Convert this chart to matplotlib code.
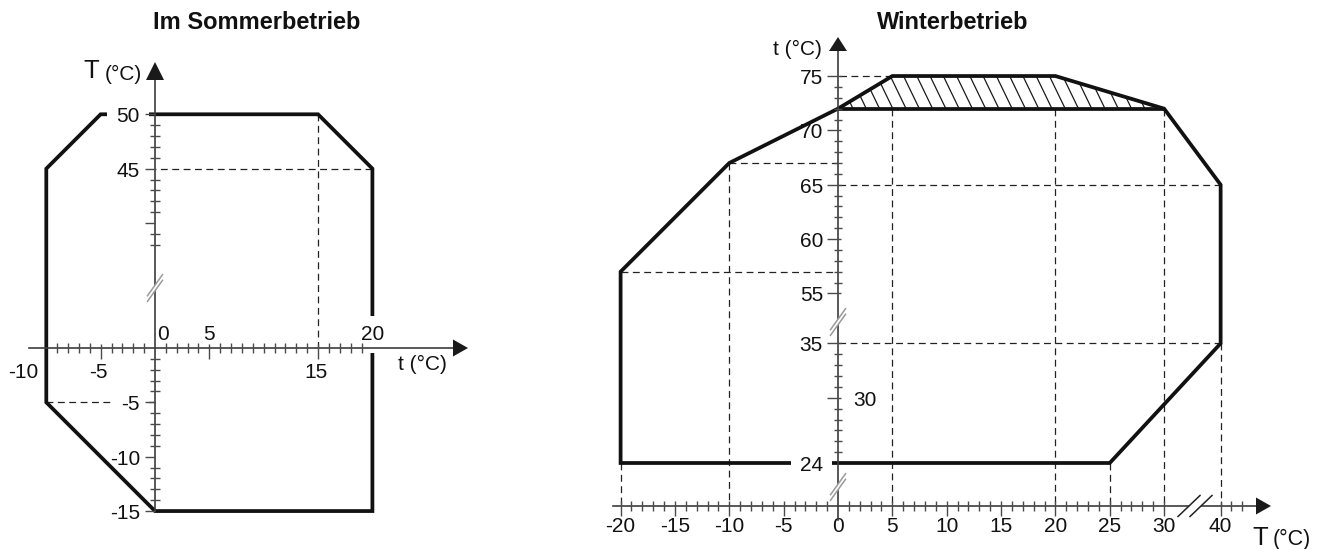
import numpy as np
import matplotlib
matplotlib.use("Agg")
import matplotlib.pyplot as plt
from matplotlib.collections import LineCollection
from matplotlib.patches import Polygon

plt.rcParams["font.family"] = ["Liberation Sans", "DejaVu Sans"]

# ---------------- data ----------------
# Summer operation: outdoor temperature t (x) against water temperature T (y)
summer_t = [0, 15, 20, 20, 0, -10, -10, -5, 0]
summer_T = [50, 50, 45, -15, -15, -5, 45, 50, 50]
summer_guide_v = [(15, 50)]               # (t, T) dropped onto the t axis
summer_guide_h = [(20, 45), (-10, -5)]    # (t, T) led across to the T axis
summer_xlab_top = [0, 5, 20]
summer_xlab_bottom = [-10, -5, 15]
summer_ylab = [50, 45, -5, -10, -15]
summer_xmajor = [-5, 5, 15]
summer_xminor = [v for v in range(-9, 20) if v not in (-5, 0, 5, 15)]
summer_ymajor = [50, 45, 40, -5, -10, -15]
summer_yminor = [49, 48, 47, 46, 44, 43, 42, 41, 39, 38] + \
                [v for v in range(-1, -15, -1) if v not in (-5, -10)]

# Winter operation: outdoor temperature T (x) against water temperature t (y)
winter_T = [0, 5, 20, 30, 40, 40, 25, -20, -20, -10, 0]
winter_t = [72, 75, 75, 72, 65, 35, 24, 24, 57, 67, 72]
winter_zone_T = [0, 5, 20, 30]            # hatched zone above t = 72
winter_zone_t = [72, 75, 75, 72]
winter_guide_v = [(-20, 24), (-10, 67), (5, 72), (20, 72), (25, 24), (30, 72), (40, 35)]
winter_guide_h = [(5, 75), (-10, 67), (-20, 57), (40, 65), (40, 35)]
winter_xlab = [-20, -15, -10, -5, 0, 5, 10, 15, 20, 25, 30, 40]
winter_ylab_left = [75, 70, 65, 60, 55, 35, 24]
winter_ylab_right = [30]
winter_xmajor = [-20, -15, -10, -5, 5, 10, 15, 20, 25, 30, 40]
winter_xminor = [v for v in range(-19, 30) if v % 5] + [41, 42]
winter_ymajor = [75, 70, 65, 60, 55, 35, 30]
winter_yminor = [v for v in range(56, 75) if v % 5] + [v for v in range(25, 35) if v != 30]

# ---------------- axis breaks ----------------
def summer_y(T):
    T = np.asarray(T, float)
    return np.where(T > 20, T - 28.5, T)

def winter_x(T):
    T = np.asarray(T, float)
    return np.where(T > 35, T - 4.8, T)

def winter_y(t):
    t = np.asarray(t, float)
    return np.where(t > 45, t - 15.4, t)

# ---------------- styling ----------------
W, H, DPI = 1326, 549, 100
S = 10.87                 # pixels per degree
INK = "#111111"
AXC = "#3c3c3c"
TICKC = "#4a4a4a"
BRK = "#9a9a9a"
FS = 15

fig = plt.figure(figsize=(W / DPI, H / DPI), dpi=DPI)


def make_ax(x0, y0, x1, y1, ox, oy, vx, vy):
    """Axes over pixel box (x0,y0)-(x1,y1); pixel (ox,oy) shows data (vx,vy)."""
    ax = fig.add_axes([x0 / W, 1 - y1 / H, (x1 - x0) / W, (y1 - y0) / H])
    ax.set_xlim(vx + (x0 - ox) / S, vx + (x1 - ox) / S)
    ax.set_ylim(vy + (oy - y1) / S, vy + (oy - y0) / S)
    ax.set_axis_off()
    return ax


def px(v):
    return v / S


def label(ax, s, x, y, dx, dy, ha="center", size=FS, box=None, **kw):
    bbox = None
    if box is not None:
        bbox = dict(boxstyle=f"square,pad={box}", fc="white", ec="none")
    ax.annotate(s, (float(x), float(y)), xytext=(dx, dy), textcoords="offset pixels",
                ha=ha, va="baseline", fontsize=size, color=INK, bbox=bbox,
                annotation_clip=False, zorder=3, **kw)


def hticks(ax, xs, y0, up, down, lw=1.0):
    segs = [((x, y0 + px(up)), (x, y0 - px(down))) for x in xs]
    ax.add_collection(LineCollection(segs, colors=TICKC, linewidths=lw, zorder=4))


def vticks(ax, ys, x0, left, right, lw=1.0):
    segs = [((x0 - px(left), y), (x0 + px(right), y)) for y in ys]
    ax.add_collection(LineCollection(segs, colors=TICKC, linewidths=lw, zorder=4))


def arrow_head(ax, tip, base, half):
    (xt, yt), (xb, yb) = tip, base
    if xt == xb:   # vertical axis
        pts = [(xb - px(half), yb), (xb + px(half), yb), (xt, yt)]
    else:
        pts = [(xb, yb - px(half)), (xb, yb + px(half)), (xt, yt)]
    ax.add_patch(Polygon(pts, closed=True, fc="#1a1a1a", ec="none", zorder=4))


def y_break(ax, x, y, color=BRK):
    hx, hy, g = px(7.5), px(10.5), px(2.8)
    band = [(x - hx, y - hy - g), (x + hx, y + hy - g), (x + hx, y + hy + g), (x - hx, y - hy + g)]
    ax.add_patch(Polygon(band, closed=True, fc="white", ec="none", zorder=5))
    for o in (-g, g):
        ax.plot([x - hx, x + hx], [y - hy + o, y + hy + o], color=color, lw=1.1, zorder=6)


def x_break(ax, x, y, color="#222222"):
    hx, hy, g = px(11), px(10.5), px(6)
    band = [(x - g - hx, y - hy), (x - g + hx, y + hy), (x + g + hx, y + hy), (x + g - hx, y - hy)]
    ax.add_patch(Polygon(band, closed=True, fc="white", ec="none", zorder=5))
    for o in (-g, g):
        ax.plot([x + o - hx, x + o + hx], [y - hy, y + hy], color=color, lw=1.1, zorder=6)


DASH = dict(color="#222222", lw=0.9, linestyle=(0, (5.5, 3.6)), zorder=1)
THICK = dict(color=INK, lw=2.7, solid_joinstyle="miter", solid_capstyle="butt", zorder=2)

# =============== summer chart ===============
axL = make_ax(0, 40, 590, 549, 155, 348, 0, 0)

# guide lines
for t, T in summer_guide_v:
    axL.plot([t, t], [summer_y(T), 0], **DASH)
for t, T in summer_guide_h:
    axL.plot([t, 0], [summer_y(T), summer_y(T)], **DASH)

# operating envelope
axL.plot(summer_t, summer_y(summer_T), **THICK)

# axes
axL.plot([px(29 - 155), px(455 - 155)], [0, 0], color=AXC, lw=1.2, zorder=4)
axL.plot([0, 0], [-15, px(348 - 78)], color=AXC, lw=1.2, zorder=4)
arrow_head(axL, (px(468 - 155), 0), (px(453 - 155), 0), 8.5)
arrow_head(axL, (0, px(348 - 62)), (0, px(348 - 80)), 9)
y_break(axL, 0, px(348 - 288))

hticks(axL, summer_xminor, 0, 5, 5)
hticks(axL, summer_xmajor, 0, 4, 11)
vticks(axL, summer_y(summer_yminor), 0, 5, 5)
vticks(axL, summer_y(summer_ymajor), 0, 10, 0)

# tick labels
for v in summer_xlab_top:
    dx = 8 if v == 0 else 0
    label(axL, f"{v}", v, 0, dx, 8, box=0.45 if v == 20 else None)
for v in summer_xlab_bottom:
    dx = -23 if v == -10 else -2
    label(axL, f"{v}", v, 0, dx, -30)
for v in summer_ylab:
    label(axL, f"{v}", 0, summer_y(v), -15, -8, ha="right",
          box=0.45 if v in (50, -5) else None)

# axis titles
label(axL, "t (°C)", px(468 - 155), 0, -70, -22, ha="left")
label(axL, "T", 0, px(348 - 62), -72, -16, ha="left", size=18.5)
label(axL, "(°C)", 0, px(348 - 62), -50, -18, ha="left", size=15)

# =============== winter chart ===============
axR = make_ax(590, 30, W, 549, 838, 463, 0, 24)
X_LEVEL = 24 - px(506 - 463)   # height at which the T axis is drawn

for T, t in winter_guide_v:
    axR.plot([winter_x(T), winter_x(T)], [winter_y(t), X_LEVEL], **DASH)
for T, t in winter_guide_h:
    axR.plot([winter_x(T), 0], [winter_y(t), winter_y(t)], **DASH)

# hatched zone (hatch lines clipped to the zone outline)
zone = Polygon(np.column_stack([winter_x(winter_zone_T), winter_y(winter_zone_t)]),
               closed=True, fill=False, ec="none")
axR.add_patch(zone)
top, bot = winter_y(80), winter_y(70)
slope = 0.483
x_hits = np.arange(0.16 - 3 * 1.22, 34, 1.22)
yb = winter_y(72)
segs = [((xh - slope * (top - yb), top), (xh + slope * (yb - bot), bot)) for xh in x_hits]
hatch = LineCollection(segs, colors="#1a1a1a", linewidths=0.9, zorder=2)
axR.add_collection(hatch)
hatch.set_clip_path(zone)

# operating envelope and the 72 °C limit
axR.plot(winter_x(winter_T), winter_y(winter_t), **THICK)
axR.plot(winter_x([winter_zone_T[0], winter_zone_T[-1]]),
         winter_y([winter_zone_t[0], winter_zone_t[-1]]), **THICK)

# axes
axR.plot([px(613 - 838), px(1258 - 838)], [X_LEVEL, X_LEVEL], color=AXC, lw=1.2, zorder=4)
axR.plot([0, 0], [24 - px(520 - 463), 24 + px(463 - 50)], color=AXC, lw=1.2, zorder=4)
arrow_head(axR, (px(1271 - 838), X_LEVEL), (px(1256 - 838), X_LEVEL), 8.5)
arrow_head(axR, (0, 24 + px(463 - 37)), (0, 24 + px(463 - 51)), 9)
y_break(axR, 0, 24 + px(463 - 322))
y_break(axR, 0, 24 + px(463 - 487))
x_break(axR, px(1195 - 838), X_LEVEL)

hticks(axR, winter_x(winter_xminor), X_LEVEL, 5, 5)
hticks(axR, winter_x(winter_xmajor), X_LEVEL, 5, 10)
vticks(axR, winter_y(winter_yminor), 0, 4, 4)
vticks(axR, winter_y(winter_ymajor), 0, 11, 3)

for v in winter_xlab:
    label(axR, f"{v}", winter_x(v), X_LEVEL, 0, -26)
for v in winter_ylab_left:
    label(axR, f"{v}", 0, winter_y(v), -15, -8, ha="right",
          box=0.45 if v == 24 else None)
for v in winter_ylab_right:
    label(axR, f"{v}", 0, winter_y(v), 15, -8, ha="left")

label(axR, "t (°C)", 0, 24 + px(463 - 37), -65, -18, ha="left")
label(axR, "T", px(1271 - 838), X_LEVEL, -19, -39, ha="left", size=18.5)
label(axR, "(°C)", px(1271 - 838), X_LEVEL, 2, -39, ha="left", size=15.5)

# titles
fig.text(257 / W, 1 - 29 / H, "Im Sommerbetrieb", ha="center", va="baseline",
         fontsize=17, fontweight="bold", color=INK)
fig.text(953 / W, 1 - 29 / H, "Winterbetrieb", ha="center", va="baseline",
         fontsize=17, fontweight="bold", color=INK)

fig.savefig("out.png", dpi=DPI, facecolor="white")
